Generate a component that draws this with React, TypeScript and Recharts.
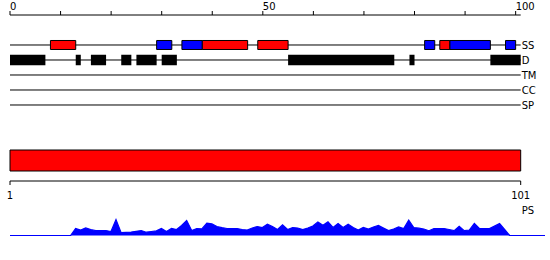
import React from "react";
import {
  ComposedChart,
  BarChart,
  AreaChart,
  Bar,
  Area,
  XAxis,
  YAxis,
  ReferenceArea,
  ReferenceLine,
} from "recharts";

const trackNames = ["SS", "D", "TM", "CC", "SP"];
const topTicks = [0, 10, 20, 30, 40, 50, 60, 70, 80, 90, 100];
const seqDomain = [0, 101];

// secondary structure (SS track): helix = red, strand = blue
const helixSegs = [[8, 13], [38, 47], [49, 55], [85, 87]];
const strandSegs = [[29, 32], [34, 38], [82, 84], [87, 95], [98, 100]];
// disorder (D track)
const disorderSegs = [
  [0, 7], [13, 14], [16, 19], [22, 24], [25, 29], [30, 33], [55, 76], [79, 80], [95, 101],
];

const psBar = [{ name: "PS", span: 101 }];
const bottomTicks = [1, 101];

// per-residue profile, residues 1..107
const profileValues = [
  0, 0, 0, 0, 0, 0, 0, 0, 0, 0, 0, 0, 0,
  7, 5.5, 7.5, 6, 4.8, 5, 5, 4, 16, 3,
  3.2, 3.5, 4.2, 5, 3.3, 4, 4.6, 7, 4, 7,
  6, 10, 15, 5, 7, 6.6, 12.3, 11.6, 9, 7.8,
  7, 6.8, 7, 6, 5.5, 7.5, 9, 8, 11.3, 9,
  6, 10.6, 6, 8, 7.5, 6, 7.5, 9.5, 13.6, 10.3,
  13.6, 8, 12, 8, 11.3, 8, 5.5, 8, 6.5, 8.5,
  10, 7.5, 5, 6.5, 8.6, 7, 15.3, 8, 7.3, 6.5,
  4.8, 7, 7, 7, 6, 4.8, 9.3, 4.8, 5.5, 12,
  7, 7, 7, 9.5, 12, 6, 0, 0, 0, 0,
  0, 0, 0, 0,
];
const profileData = profileValues.map((v, i) => ({ pos: i + 1, score: v }));

const TopTick = (props: any) => {
  const { x, y, payload } = props;
  if (payload.value % 50 !== 0) return <g />;
  return (
    <text x={x} y={y} textAnchor="start" fontSize={10} fill="#000">
      {payload.value}
    </text>
  );
};

const half = 0.3;

export default function App() {
  return (
    <div
      style={{
        position: "absolute",
        left: 0,
        top: 0,
        width: 550,
        height: 260,
        background: "#fff",
        fontFamily: "DejaVu Sans",
      }}
    >
      <div style={{ position: "absolute", left: 0, top: 0 }}>
        <ComposedChart width={550} height={115} margin={{ top: 0, right: 0, left: 10, bottom: 0 }}>
          <XAxis
            type="number"
            dataKey="x"
            orientation="top"
            domain={seqDomain}
            ticks={topTicks}
            interval={0}
            height={15}
            tickSize={4}
            tickMargin={1}
            stroke="#000"
            tick={TopTick}
            allowDataOverflow
          />
          <YAxis
            type="number"
            orientation="right"
            domain={[-2, 4.6667]}
            reversed
            ticks={[0, 1, 2, 3, 4]}
            interval={0}
            tickFormatter={(v: number) => trackNames[v]}
            width={29.3}
            tickSize={0}
            tickMargin={1}
            axisLine={false}
            tickLine={false}
            tick={{ fill: "#000", fontSize: 10 }}
            allowDataOverflow
          />
          {trackNames.map((n, i) => (
            <ReferenceLine key={n} y={i} stroke="#000" zIndex={50} />
          ))}
          {disorderSegs.map((s, i) => (
            <ReferenceArea
              key={"d" + i}
              x1={s[0]}
              x2={s[1]}
              y1={1 - 0.35}
              y2={1 + 0.35}
              fill="#000"
              fillOpacity={1}
              stroke="none"
              zIndex={150}
            />
          ))}
          {helixSegs.map((s, i) => (
            <ReferenceArea
              key={"h" + i}
              x1={s[0]}
              x2={s[1]}
              y1={-half}
              y2={half}
              fill="#ff0000"
              fillOpacity={1}
              stroke="#000"
              strokeWidth={1}
              zIndex={150}
            />
          ))}
          {strandSegs.map((s, i) => (
            <ReferenceArea
              key={"s" + i}
              x1={s[0]}
              x2={s[1]}
              y1={-half}
              y2={half}
              fill="#0000ff"
              fillOpacity={1}
              stroke="#000"
              strokeWidth={1}
              zIndex={150}
            />
          ))}
        </ComposedChart>
      </div>

      <div style={{ position: "absolute", left: 0, top: 140 }}>
        <BarChart
          width={550}
          height={99}
          layout="vertical"
          data={psBar}
          margin={{ top: 10, right: 29.3, left: 10, bottom: 0 }}
          barCategoryGap={0}
        >
          <XAxis
            type="number"
            domain={[1, 101]}
            ticks={bottomTicks}
            interval={0}
            height={58}
            tickSize={4}
            tickMargin={7}
            stroke="#000"
            tick={{ fill: "#000", fontSize: 10 }}
            label={{ value: "PS", position: "right", offset: 1, fill: "#000", fontSize: 10 }}
          />
          <YAxis type="category" dataKey="name" hide padding={{ top: 0, bottom: 10 }} />
          <Bar dataKey="span" fill="#ff0000" stroke="#000" strokeWidth={1} isAnimationActive={false} />
        </BarChart>
      </div>

      <div style={{ position: "absolute", left: 0, top: 210 }}>
        <AreaChart
          width={550}
          height={30}
          data={profileData}
          margin={{ top: 5, right: 5, left: 10, bottom: 4 }}
        >
          <XAxis type="number" dataKey="pos" domain={[1, 107]} hide />
          <YAxis type="number" domain={[-0.5, 20.5]} hide allowDataOverflow />
          <Area
            type="linear"
            dataKey="score"
            baseValue={0}
            stroke="#0000ff"
            strokeWidth={1.2}
            fill="#0000ff"
            fillOpacity={1}
            dot={false}
            activeDot={false}
            isAnimationActive={false}
          />
        </AreaChart>
      </div>
    </div>
  );
}
